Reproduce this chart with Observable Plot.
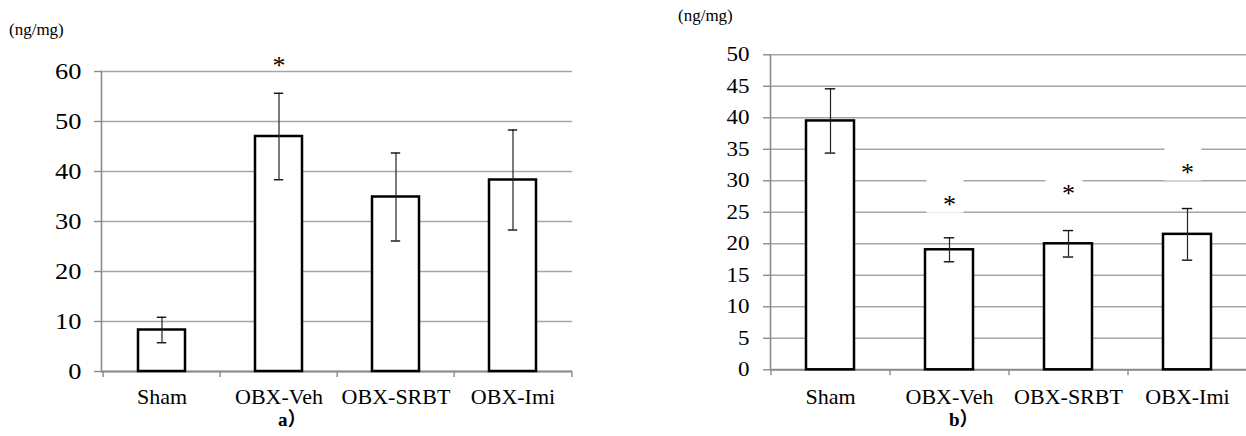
<!DOCTYPE html>
<html><head><meta charset="utf-8">
<script src="https://cdn.jsdelivr.net/npm/d3@7"></script>
<script src="https://cdn.jsdelivr.net/npm/@observablehq/plot@0.6"></script>
<style>
body{margin:0;background:#fff;}
#wrap{position:relative;width:1246px;height:436px;overflow:hidden;font-family:'Liberation Serif',serif;color:#000;}
.panel{position:absolute;top:0;}
.unit{position:absolute;font-size:17px;white-space:nowrap;font-family:'Liberation Serif',serif;}
.cap{position:absolute;font-size:19px;font-weight:bold;white-space:nowrap;font-family:'Liberation Serif','Noto Sans CJK JP',serif;}
svg text{font-family:'Liberation Serif',serif;}
</style></head><body>
<div id="wrap">
 <div class="panel" id="pa" style="left:0"></div>
 <div class="panel" id="pb" style="left:640px"></div>
 <div class="unit" id="ua" style="left:9px;top:20px"></div>
 <div class="unit" id="ub" style="left:678px;top:6px"></div>
 <div class="cap" id="ca" style="left:278px;top:404px"></div>
 <div class="cap" id="cb" style="left:949px;top:404px"></div>
</div>
<script>
const categories = ["Sham", "OBX-Veh", "OBX-SRBT", "OBX-Imi"];
// panel a
const meanA = [8.3, 47.0, 34.9, 38.3];
const errA = [2.55, 8.65, 8.8, 10.0];
const ticksA = [0, 10, 20, 30, 40, 50, 60];
const sigA = ["OBX-Veh"];
const sigAPos = [62.2];
// panel b
const meanB = [39.5, 19.05, 20.0, 21.5];
const errB = [5.1, 1.9, 2.1, 4.1];
const ticksB = [0, 5, 10, 15, 20, 25, 30, 35, 40, 45, 50];
const sigB = ["OBX-Veh", "OBX-SRBT", "OBX-Imi"];
const sigBPos = [27.0, 28.8, 32.1];
const unitLabel = "(ng/mg)";
const panelLabels = ["a）", "b）"];

document.getElementById("ua").textContent = unitLabel;
document.getElementById("ub").textContent = unitLabel;
document.getElementById("ca").textContent = panelLabels[0];
document.getElementById("cb").textContent = panelLabels[1];

const boxSymbol = {
  draw(ctx) {
    ctx.moveTo(-18.5, -16.5); ctx.lineTo(18.5, -16.5); ctx.lineTo(18.5, 16.5); ctx.lineTo(-18.5, 16.5); ctx.closePath();
  }
};

function panel({mean, err, ticks, sig, sigPos, width, ml, mr, mt, mb, tickFont, tickPad, labelPad, boxes, capW}) {
  const data = categories.map((c, i) => ({c, m: mean[i], e: err[i]}));
  const sd = sig.map((c, i) => ({c, p: sigPos[i]}));
  const step = (width - ml - mr) / categories.length;
  const bw = step * 0.4;
  const ins = (bw - capW) / 2;
  const axisCol = "#8c8c8c";
  const svg = Plot.plot({
    width, height: 436,
    marginLeft: ml, marginRight: mr, marginTop: mt, marginBottom: mb,
    style: {fontFamily: "'Liberation Serif', serif", color: "#000", background: "transparent"},
    x: {domain: categories, paddingInner: 0.6, paddingOuter: 0.3, label: null},
    y: {domain: [0, ticks[ticks.length - 1]], label: null},
    marks: [
      Plot.gridY(ticks, {stroke: "#a6a6a6", strokeOpacity: 1, strokeWidth: 1.4}),
      Plot.axisY(ticks, {tickSize: 7, tickPadding: tickPad, fontSize: tickFont, stroke: axisCol, strokeWidth: 1.4, fill: "#000", label: null}),
      Plot.axisX({tickSize: 0, tickPadding: labelPad, fontSize: 22, fill: "#000", label: null}),
      Plot.frame({anchor: "left", stroke: axisCol, strokeWidth: 1.6}),
      Plot.ruleX(categories, {x: d => d, y1: 0, y2: 0, dx: -step / 2, insetBottom: -6, stroke: axisCol, strokeWidth: 1.4}),
      Plot.ruleX([categories[categories.length - 1]], {x: d => d, y1: 0, y2: 0, dx: step / 2, insetBottom: -6, stroke: axisCol, strokeWidth: 1.4}),
      Plot.ruleY([0], {stroke: axisCol, strokeWidth: 2}),
      Plot.barY(data, {x: "c", y: "m", fill: "white", stroke: "#000", strokeWidth: 2.5}),
      Plot.ruleX(data, {x: "c", y1: d => d.m - d.e, y2: d => d.m + d.e, stroke: "#222", strokeWidth: 1.2}),
      Plot.tickY(data, {x: "c", y: d => d.m + d.e, insetLeft: ins, insetRight: ins, stroke: "#111", strokeWidth: 1.4}),
      Plot.tickY(data, {x: "c", y: d => d.m - d.e, insetLeft: ins, insetRight: ins, stroke: "#111", strokeWidth: 1.4}),
      boxes ? Plot.dot(sd, {x: "c", y: "p", symbol: boxSymbol, r: 10, fill: "white", stroke: null, dx: -4.5, dy: -3.5}) : null,
      Plot.text(sd, {x: "c", y: "p", text: () => "*", fontSize: 26, dy: 5, fill: "#000"})
    ]
  });
  d3.select(svg).selectAll('g[aria-label="y-axis tick label"] text').each(function() {
    const t = this.getAttribute("transform");
    if (t) this.setAttribute("transform", t + " scale(1.15,1)");
  });
  return svg;
}

document.getElementById("pa").append(panel({
  mean: meanA, err: errA, ticks: ticksA, sig: sigA, sigPos: sigAPos,
  width: 600, ml: 101, mr: 28, mt: 71, mb: 65, tickFont: 23, tickPad: 13, labelPad: 17, boxes: false, capW: 9.5
}));
document.getElementById("pb").append(panel({
  mean: meanB, err: errB, ticks: ticksB, sig: sigB, sigPos: sigBPos,
  width: 606, ml: 130, mr: 0, mt: 54.3, mb: 66.7, tickFont: 20, tickPad: 14, labelPad: 19, boxes: true, capW: 10
}));
</script>
</body></html>
